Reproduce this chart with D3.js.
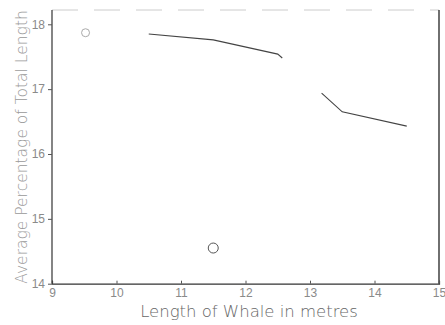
<!DOCTYPE html>
<html>
<head>
<meta charset="utf-8">
<script src="https://cdn.jsdelivr.net/npm/d3@7"></script>
<style>
  body { margin: 0; background: #fff; }
  svg { font-family: "DejaVu Sans", sans-serif; }
</style>
</head>
<body>
<div id="chart"></div>
<script>
// whale length (m) vs. average percentage of total length
var lineA_x = [10.5, 11.5, 12.5, 12.57];
var lineA_y = [17.85, 17.76, 17.54, 17.48];
var lineB_x = [13.18, 13.5, 14.5];
var lineB_y = [16.94, 16.65, 16.43];
var circle_x = [9.52, 11.5];
var circle_y = [17.87, 14.55];
var xTicks = [9, 10, 11, 12, 13, 14, 15];
var yTicks = [14, 15, 16, 17, 18];

var margin = {top: 10, right: 6, bottom: 41, left: 52},
    width = 445 - margin.left - margin.right,
    height = 325 - margin.top - margin.bottom;

var svg = d3.select("#chart")
  .append("svg")
    .attr("width", 445)
    .attr("height", 325)
  .append("g")
    .attr("transform", "translate(" + margin.left + "," + margin.top + ")");

var x = d3.scaleLinear().domain([9, 15]).range([0, 387]);
var y = d3.scaleLinear().domain([14, 18]).range([273.7, 14.3]);

// frame: faint dashed top, solid right
svg.append("line")
  .attr("x1", 0).attr("x2", x(15))
  .attr("y1", 0).attr("y2", 0)
  .attr("stroke", "#ccc")
  .attr("stroke-dasharray", "26,16");
svg.append("line")
  .attr("x1", x(15)).attr("x2", x(15))
  .attr("y1", 0).attr("y2", y(14))
  .attr("stroke", "#222")
  .attr("stroke-width", 1.3);

// axes
var xAxis = svg.append("g")
  .attr("transform", "translate(0," + y(14) + ")")
  .call(d3.axisBottom(x).tickValues(xTicks).tickFormat(d3.format("d")).tickSize(-3).tickPadding(5));
var yAxis = svg.append("g")
  .call(d3.axisLeft(y).tickValues(yTicks).tickFormat(d3.format("d")).tickSize(4).tickPadding(3));

// stretch the y axis up to the top of the frame
yAxis.select(".domain").attr("d", "M0,0V" + y(14));

[xAxis, yAxis].forEach(function(a) {
  a.select(".domain").attr("stroke", "#333").attr("stroke-width", 1.2);
  a.selectAll(".tick line").attr("stroke", "#555");
  a.selectAll(".tick text")
    .attr("fill", "#8a8a8a")
    .style("font-size", "12px")
    .style("font-weight", "300");
});

var line = d3.line()
  .x(function(d) { return x(d[0]); })
  .y(function(d) { return y(d[1]); });

svg.append("path")
  .datum(d3.zip(lineA_x, lineA_y))
  .attr("d", line)
  .attr("fill", "none")
  .attr("stroke", "#444")
  .attr("stroke-width", 1.1);

svg.append("path")
  .datum(d3.zip(lineB_x, lineB_y))
  .attr("d", line)
  .attr("fill", "none")
  .attr("stroke", "#444")
  .attr("stroke-width", 1.1);

svg.selectAll("circle")
  .data(d3.zip(circle_x, circle_y))
  .enter()
  .append("circle")
  .attr("cx", function(d) { return x(d[0]); })
  .attr("cy", function(d) { return y(d[1]); })
  .attr("r", function(d, i) { return i == 0 ? 4 : 5; })
  .attr("fill", "none")
  .attr("stroke", function(d, i) { return i == 0 ? "#aaa" : "#555"; })
  .attr("stroke-width", 1);

// axis titles
svg.append("text")
  .attr("x", 197)
  .attr("y", 307)
  .attr("text-anchor", "middle")
  .attr("fill", "#666")
  .style("font-size", "16.5px")
  .style("font-weight", "300")
  .text("Length of Whale in metres");

svg.append("text")
  .attr("transform", "translate(-25," + 137 + ") rotate(-90)")
  .attr("text-anchor", "middle")
  .attr("fill", "#999")
  .style("font-size", "15.5px")
  .style("font-weight", "300")
  .text("Average Percentage of Total Length");
</script>
</body>
</html>
